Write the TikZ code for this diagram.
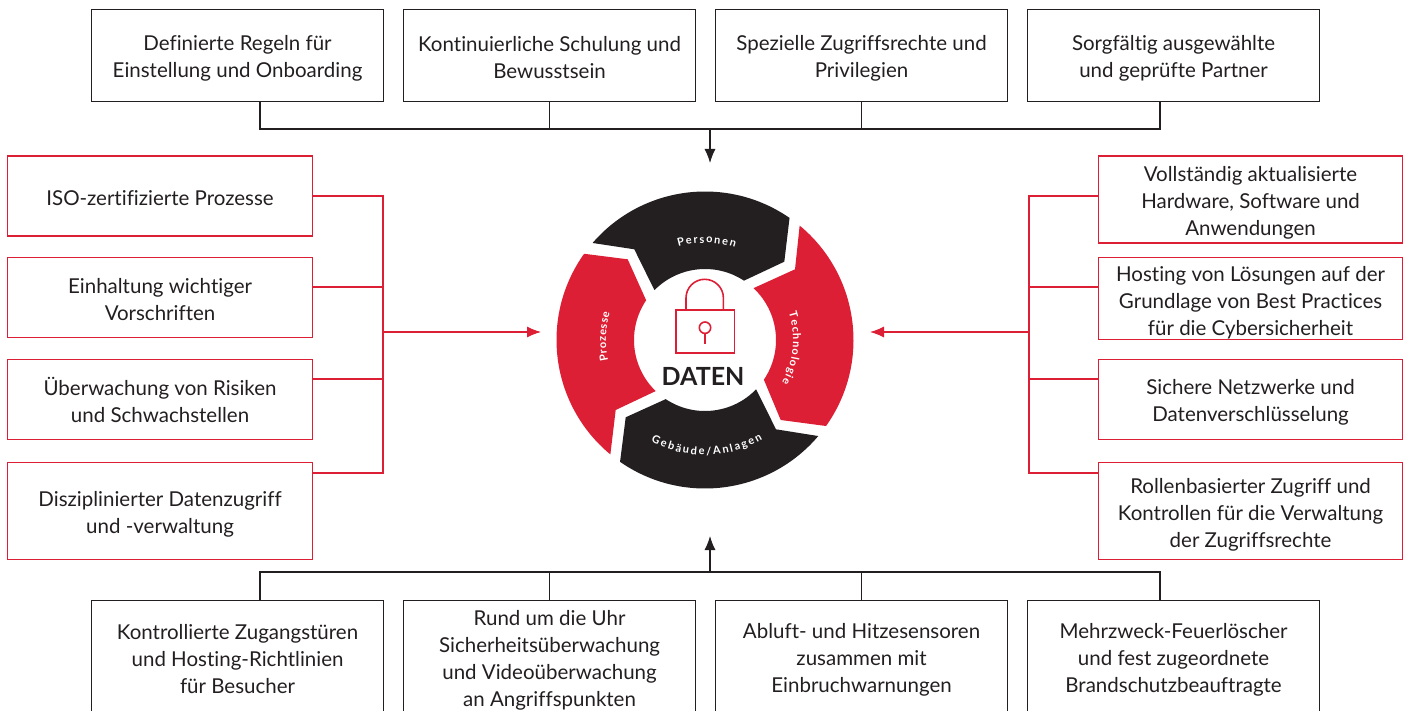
\documentclass[tikz,border=0pt]{standalone}
\usepackage{fontspec}
\setmainfont{Lato}[Ligatures=NoCommon]
\usetikzlibrary{decorations.text,arrows.meta}
\definecolor{xred}{HTML}{DD1F35}
\definecolor{xink}{HTML}{231F20}
\newcommand{\fl}[1]{\rule{0pt}{#1pt}}
\tikzset{
  x=1pt,y=-1pt,
  tbox/.style={draw=xink,line width=1.1pt,minimum width=#1,inner sep=0pt,align=center,text=xink,font=\fontsize{20.5}{27}\selectfont,anchor=north west},
  tbox/.default=292pt,
  rbox/.style={tbox=#1,draw=xred},
  bline/.style={draw=xink,line width=1.1pt},
  rline/.style={draw=xred,line width=1.1pt},
  barrow/.style={bline,-{Latex[length=14pt,width=11pt]}},
  rarrow/.style={rline,-{Latex[length=14pt,width=11pt]}},
  ringlabel/.style={decorate,decoration={text along path,text align=fit to path,text={|\color{white}\bfseries\fontsize{11}{12}\selectfont|#1}}}
}
\begin{document}
\begin{tikzpicture}
\useasboundingbox (0,0) rectangle (1407,711);
% top boxes
\node[tbox,minimum height=92pt] (t1) at (91,9) {\fl{21}Definierte Regeln für\\Einstellung und Onboarding};
\node[tbox,minimum height=92pt] (t2) at (403,9) {\fl{19}Kontinuierliche Schulung und\\Bewusstsein};
\node[tbox,minimum height=92pt] (t3) at (715,9) {\fl{21}Spezielle Zugriffsrechte und\\Privilegien};
\node[tbox,minimum height=92pt] (t4) at (1027,9) {\fl{21}Sorgfältig ausgewählte\\und geprüfte Partner};
% bottom boxes
\node[tbox,minimum height=111pt] (b1) at (91,600) {\fl{21}Kontrollierte Zugangstüren\\und Hosting-Richtlinien\\für Besucher};
\node[tbox,minimum height=111pt] (b2) at (403,600) {\fl{23}Rund um die Uhr\\Sicherheitsüberwachung\\und Videoüberwachung\\an Angriffspunkten};
\node[tbox,minimum height=111pt] (b3) at (715,600) {\fl{23}Abluft- und Hitzesensoren\\zusammen mit\\Einbruchwarnungen};
\node[tbox,minimum height=111pt] (b4) at (1027,600) {\fl{23}Mehrzweck-Feuerlöscher\\und fest zugeordnete\\Brandschutzbeauftragte};
% left boxes
\node[rbox=305pt,minimum height=80pt] (l1) at (7,155.5) {\fl{19}ISO-zertifizierte Prozesse};
\node[rbox=305pt,minimum height=80pt] (l2) at (7,257) {\fl{19}Einhaltung wichtiger\\Vorschriften};
\node[rbox=305pt,minimum height=80pt] (l3) at (7,359) {\fl{16}Überwachung von Risiken\\und Schwachstellen};
\node[rbox=305pt,minimum height=97pt] (l4) at (7,462) {\fl{21}Disziplinierter Datenzugriff\\und -verwaltung};
% right boxes
\node[rbox=304pt,minimum height=87pt] (r1) at (1098,155.5) {\fl{21}Vollständig aktualisierte\\Hardware, Software und\\Anwendungen};
\node[rbox=304pt,minimum height=81pt] (r2) at (1098,257) {\fl{24}Hosting von Lösungen auf der\\Grundlage von Best Practices\\für die Cybersicherheit};
\node[rbox=304pt,minimum height=80pt] (r3) at (1098,359) {\fl{21}Sichere Netzwerke und\\Datenverschlüsselung};
\node[rbox=304pt,minimum height=97pt] (r4) at (1098,462) {\fl{22}Rollenbasierter Zugriff und\\Kontrollen für die Verwaltung\\der Zugriffsrechte};
% junctions
\coordinate (tj) at (710,129);
\coordinate (ta) at (710,163);
\coordinate (bj) at (710,572);
\coordinate (ba) at (710,536);
\coordinate (lj) at (383,332);
\coordinate (la) at (541,332);
\coordinate (rj) at (1029,332);
\coordinate (ra) at (870,332);
% top bus
\draw[bline] (t1.south -| 260,0) |- (tj);
\draw[bline] (t2.south) -- (t2.south |- tj);
\draw[bline] (t3.south) -- (t3.south |- tj);
\draw[bline] (t4.south -| 1160,0) |- (tj);
\draw[barrow] (tj) -- (ta);
% bottom bus
\draw[bline] (b1.north -| 260,0) |- (bj);
\draw[bline] (b2.north) -- (b2.north |- bj);
\draw[bline] (b3.north) -- (b3.north |- bj);
\draw[bline] (b4.north -| 1160,0) |- (bj);
\draw[barrow] (bj) -- (ba);
% left bus
\draw[rline] (l1.east |- 0,196) -| (lj);
\draw[rline] (l2.east |- 0,287) -- (lj |- 0,287);
\draw[rline] (l3.east |- 0,379) -- (lj |- 0,379);
\draw[rline] (l4.east |- 0,473) -| (lj);
\draw[rarrow] (lj) -- (la);
% right bus
\draw[rline] (r1.west |- 0,196) -| (rj);
\draw[rline] (r2.west |- 0,287) -- (rj |- 0,287);
\draw[rline] (r3.west |- 0,379) -- (rj |- 0,379);
\draw[rline] (r4.west |- 0,473) -| (rj);
\draw[rarrow] (rj) -- (ra);
% ring
\begin{scope}[shift={(705,340)},x=1pt,y=1pt]
\fill[xink] (139.2:148.5) arc[start angle=139.2,end angle=55.3,radius=148.5]
  -- (79.3,78.3) -- (56.7:71) arc[start angle=56.7,end angle=135.4,radius=71]
  -- (-70.7,90.7) -- cycle;
\fill[xred] (50.4:148.5) arc[start angle=50.4,end angle=-35.4,radius=148.5]
  -- (75.7,-80) -- (-34:71) arc[start angle=-34,end angle=46.9,radius=71]
  -- (90,70.7) -- cycle;
\fill[xink] (-40.3:148.5) arc[start angle=-40.3,end angle=-124.9,radius=148.5]
  -- (-79.3,-77.3) -- (-123.6:71) arc[start angle=-123.6,end angle=-44,radius=71]
  -- (71,-89.3) -- cycle;
\fill[xred] (230.4:148.5) arc[start angle=230.4,end angle=144.5,radius=148.5]
  -- (-77.3,80.7) -- (146:71) arc[start angle=146,end angle=226,radius=71]
  -- (-89.3,-70) -- cycle;
% ring labels
\path[ringlabel=Personen] (106:97) arc[start angle=106,end angle=72,radius=97];
\path[ringlabel=Technologie] (18:88) arc[start angle=18,end angle=-29,radius=88];
\path[ringlabel=Prozesse] (192:99) arc[start angle=192,end angle=164,radius=99];
\path[ringlabel={Gebäude/Anlagen}] (242:115) arc[start angle=242,end angle=300,radius=115];
% lock
\begin{scope}[xred,line width=1.6pt]
\draw (-29,30) rectangle (29.5,-13);
\draw (-19,30) -- (-19,42) arc[start angle=180,end angle=0,radius=18.7] -- (18.4,30);
\draw (0,12.3) circle[radius=5.7];
\draw (0,6.6) -- (0,-4);
\end{scope}
\node[font=\bfseries\fontsize{25}{25}\selectfont,text=xink,inner sep=0pt] (daten) at (-2,-36) {DATEN};
\end{scope}
\end{tikzpicture}
\end{document}
